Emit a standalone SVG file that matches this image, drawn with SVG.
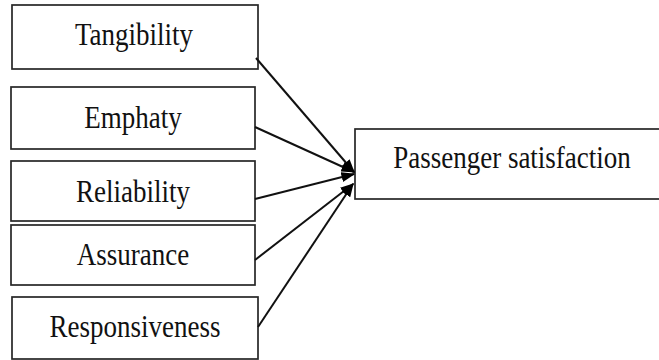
<svg xmlns="http://www.w3.org/2000/svg" width="659" height="360" viewBox="0 0 659 360">
  <style>
    .box { fill: #ffffff; stroke: #262626; stroke-width: 1.7; }
    .label { font-family: "Liberation Serif", "Times New Roman", serif; font-size: 27px; fill: #111111; text-anchor: middle; }
    .edge { stroke: #111111; stroke-width: 2; fill: none; marker-end: url(#head); }
  </style>
  <defs>
    <marker id="head" viewBox="0 0 10 10" refX="9" refY="5" markerWidth="14" markerHeight="10" markerUnits="userSpaceOnUse" orient="auto" preserveAspectRatio="none">
      <path d="M0,0 L10,5 L0,10 Z" fill="#000000"/>
    </marker>
  </defs>
  <rect width="659" height="360" fill="#ffffff"/>

  <!-- labels are stretched vertically by 1.2 around their baseline -->
  <g id="tangibility">
    <rect class="box" x="12" y="5" width="246" height="64"/>
    <text class="label" transform="translate(134 45) scale(1 1.2)">Tangibility</text>
  </g>
  <g id="emphaty">
    <rect class="box" x="11" y="87" width="244" height="62"/>
    <text class="label" transform="translate(133 128) scale(1 1.2)">Emphaty</text>
  </g>
  <g id="reliability">
    <rect class="box" x="11" y="161" width="244" height="60"/>
    <text class="label" transform="translate(133 202) scale(1 1.2)">Reliability</text>
  </g>
  <g id="assurance">
    <rect class="box" x="11" y="225" width="244" height="60"/>
    <text class="label" transform="translate(133 265) scale(1 1.2)">Assurance</text>
  </g>
  <g id="responsiveness">
    <rect class="box" x="12" y="297" width="246" height="62"/>
    <text class="label" transform="translate(135 337) scale(1 1.2)">Responsiveness</text>
  </g>
  <g id="passenger-satisfaction">
    <rect class="box" x="355" y="129" width="314" height="70"/>
    <text class="label" transform="translate(512 168) scale(1 1.2)">Passenger satisfaction</text>
  </g>

  <g id="connectors">
    <line class="edge" x1="256" y1="58" x2="354" y2="172"/>
    <line class="edge" x1="255" y1="127" x2="354" y2="172"/>
    <line class="edge" x1="255" y1="199" x2="354" y2="174"/>
    <line class="edge" x1="255" y1="260" x2="353" y2="184"/>
    <line class="edge" x1="258" y1="327" x2="353" y2="184"/>
  </g>
</svg>
